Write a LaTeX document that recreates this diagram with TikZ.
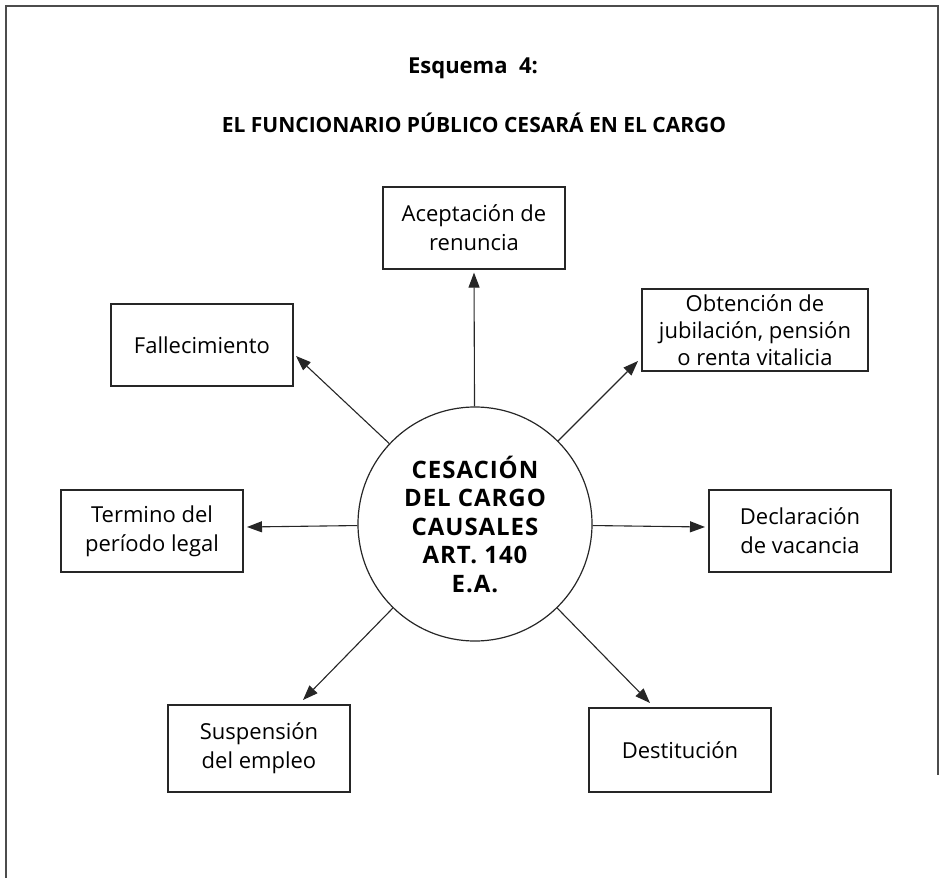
\documentclass[tikz,border=0pt]{standalone}
\usepackage{fontspec}
\setmainfont{Open Sans}
\usetikzlibrary{arrows.meta}
\begin{document}
\begin{tikzpicture}[x=1pt,y=-1pt,
  box/.style={draw=black!85,line width=1.2pt,minimum width=182pt,minimum height=82pt,
    align=center,inner sep=0pt,font=\fontsize{22}{29}\selectfont},
  arr/.style={-{Triangle[length=15pt,width=11pt]},line width=1.1pt,draw=black!85},
  ttl/.style={font=\bfseries\fontsize{21}{25}\selectfont,inner sep=0pt},
  hub/.style={circle,draw=black!85,line width=1.2pt,minimum size=234pt,inner sep=0pt,
    align=center,font=\bfseries\fontsize{24}{28.5}\selectfont\addfontfeature{LetterSpace=4}}]
\useasboundingbox (0,0) rectangle (948,878);
\draw[line width=1.2pt,black!70] (6,878) -- (6,6) -- (938,6) -- (938,775);
\node[ttl,font=\bfseries\fontsize{22}{25}\selectfont] (t1) at (473,68) {Esquema \ 4:};
\node[ttl] (t2) at (474,123) {EL FUNCIONARIO PÚBLICO CESARÁ EN EL CARGO};
\node[hub] (c) at (475,524) {CESACIÓN\\DEL CARGO\\CAUSALES\\ART. 140\\E.A.};
\node[box] (ace) at (474,228) {Aceptación de\\renuncia};
\node[box] (fal) at (202,345) {Fallecimiento};
\node[box,minimum width=226pt,font=\fontsize{22}{27}\selectfont] (obt) at (755,330) {Obtención de\\jubilación, pensión\\o renta vitalicia};
\node[box] (ter) at (152,531) {Termino del\\período legal};
\node[box] (dec) at (800,531) {Declaración\\de vacancia};
\node[box,minimum height=87pt] (sus) at (259,748.5) {Suspensión\\del empleo};
\node[box,minimum height=84pt] (des) at (680,750) {Destitución};
\coordinate (tfal) at (296,356);
\coordinate (tobt) at (638,361);
\coordinate (tsus) at (303,700);
\coordinate (tdes) at (650,703);
\coordinate (tter) at (247,527);
\coordinate (tdec) at (705,527);
\draw[arr] (c) -- ([yshift=-3pt]ace.south);
\draw[arr] (c) -- (tfal);
\draw[arr] (c) -- (tobt);
\draw[arr] (c) -- (tter);
\draw[arr] (c) -- (tdec);
\draw[arr] (c) -- (tsus);
\draw[arr] (c) -- (tdes);
\end{tikzpicture}
\end{document}
